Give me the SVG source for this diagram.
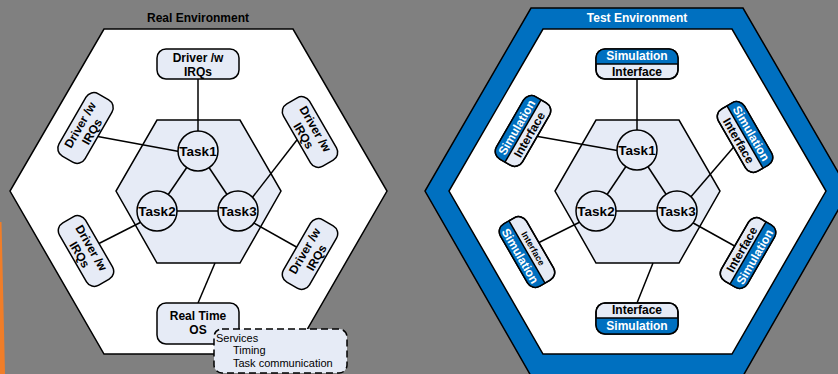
<svg xmlns="http://www.w3.org/2000/svg" width="838" height="374" viewBox="0 0 838 374">
<style>
.bg{fill:#808080}
.hexo{fill:#fff;stroke:#000;stroke-width:1.5}
.hexb{fill:#0070c0;stroke:#000;stroke-width:1.5}
.hexi{fill:#e6ebf6;stroke:#000;stroke-width:1.5}
.box{fill:#e6ebf6;stroke:#000;stroke-width:1.5}
.frame{fill:none;stroke:#000;stroke-width:1.5}
.blue{fill:#0070c0}
.dash{fill:#e6ebf6;stroke:#000;stroke-width:1.5;stroke-dasharray:7 4}
.t{font-family:"Liberation Sans",Arial,sans-serif;font-size:12px;font-weight:bold;text-anchor:middle;fill:#000}
.tl{font-family:"Liberation Sans",Arial,sans-serif;font-size:11px;fill:#000}
.ti{font-family:"Liberation Sans",Arial,sans-serif;font-size:12px;font-weight:bold;text-anchor:middle}
.task{font-family:"Liberation Sans",Arial,sans-serif;font-size:13.5px;font-weight:bold;text-anchor:middle;fill:#000}
.w{fill:#fff}
.conn line{stroke:#000;stroke-width:1.5}
</style>
<rect class="bg" x="0" y="0" width="838" height="374"/>
<polygon points="0,222 1.5,222 5,374 0,374" fill="#f07d28"/>

<g id="real-env">
<polygon class="hexo" points="104,29 293,29 387,191 293,354 104,354 10,191"/>
<text class="ti" x="198" y="21.5" fill="#000">Real Environment</text>
<polygon class="hexi" points="157,120 240,120 281,191 240,263 157,263 116,191"/>
</g>

<g id="test-env">
<polygon class="hexb" points="531,8 743,8 849,191 743,376 531,376 425,191"/>
<polygon class="hexo" points="543,29 732,29 826,191 732,354 543,354 449,191"/>
<text class="ti w" x="637" y="21.5">Test Environment</text>
<polygon class="hexi" points="596,120 679,120 720,191 679,263 596,263 555,191"/>
</g>

<g id="connectors" class="conn">
<line x1="198" y1="79" x2="198" y2="151"/>
<line x1="95" y1="136" x2="198" y2="155"/>
<line x1="300" y1="136" x2="238" y2="216"/>
<line x1="96" y1="245" x2="157" y2="214"/>
<line x1="238" y1="214" x2="300" y2="249"/>
<line x1="198" y1="151" x2="157" y2="211"/>
<line x1="198" y1="151" x2="238" y2="211"/>
<line x1="157" y1="211" x2="238" y2="211"/>
<line x1="215" y1="263" x2="198" y2="303"/>
<line x1="637" y1="79" x2="637" y2="150"/>
<line x1="535" y1="136" x2="637" y2="154"/>
<line x1="738" y1="142" x2="677" y2="213"/>
<line x1="534" y1="245" x2="596" y2="214"/>
<line x1="677" y1="214" x2="740" y2="249"/>
<line x1="637" y1="150" x2="596" y2="211"/>
<line x1="637" y1="150" x2="677" y2="211"/>
<line x1="596" y1="211" x2="677" y2="211"/>
<line x1="653" y1="263" x2="637" y2="303"/>
</g>

<g id="task1-real"><circle class="box" cx="198" cy="151" r="20"/><text class="task" x="198" y="156">Task1</text></g>
<g id="task2-real"><circle class="box" cx="157" cy="211" r="20"/><text class="task" x="157" y="216">Task2</text></g>
<g id="task3-real"><circle class="box" cx="238" cy="211" r="20"/><text class="task" x="238" y="216">Task3</text></g>

<g id="drv-top"><rect class="box" x="157" y="49" width="82" height="30" rx="9"/><text class="t" x="198" y="62">Driver /w</text><text class="t" x="198" y="75.5">IRQs</text></g>
<g id="drv-ul" transform="translate(85.5,128) rotate(-60)"><rect class="box" x="-36" y="-15" width="72" height="30" rx="9"/><text class="t" x="0" y="-2">Driver /w</text><text class="t" x="0" y="11.5">IRQs</text></g>
<g id="drv-ur" transform="translate(310,132) rotate(60)"><rect class="box" x="-36" y="-15" width="72" height="30" rx="9"/><text class="t" x="0" y="-2">Driver /w</text><text class="t" x="0" y="11.5">IRQs</text></g>
<g id="drv-ll" transform="translate(86,251) rotate(60)"><rect class="box" x="-36" y="-15" width="72" height="30" rx="9"/><text class="t" x="0" y="-2">Driver /w</text><text class="t" x="0" y="11.5">IRQs</text></g>
<g id="drv-lr" transform="translate(310,254) rotate(-60)"><rect class="box" x="-36" y="-15" width="72" height="30" rx="9"/><text class="t" x="0" y="-2">Driver /w</text><text class="t" x="0" y="11.5">IRQs</text></g>

<g id="rtos"><rect class="box" x="157" y="303" width="82" height="41" rx="9"/><text class="t" x="198" y="320">Real Time</text><text class="t" x="198" y="334">OS</text></g>
<g id="services"><rect class="dash" x="214" y="329" width="133" height="44" rx="8"/>
<text class="tl" x="216" y="342">Services</text>
<text class="tl" x="233" y="354">Timing</text>
<text class="tl" x="233" y="367">Task communication</text></g>

<g id="task1-test"><circle class="box" cx="637" cy="150" r="20"/><text class="task" x="637" y="155">Task1</text></g>
<g id="task2-test"><circle class="box" cx="596" cy="211" r="20"/><text class="task" x="596" y="216">Task2</text></g>
<g id="task3-test"><circle class="box" cx="677" cy="211" r="20"/><text class="task" x="677" y="216">Task3</text></g>

<g id="sim-top"><rect class="box" x="596" y="49" width="82" height="30" rx="9"/>
<path class="blue" d="M596,64 V58 A9,9 0 0 1 605,49 H669 A9,9 0 0 1 678,58 V64 Z"/>
<line x1="596" y1="64" x2="678" y2="64" stroke="#000" stroke-width="1.5"/>
<rect class="frame" x="596" y="49" width="82" height="30" rx="9"/>
<text class="t w" x="637" y="59.5">Simulation</text><text class="t" x="637" y="75.5">Interface</text></g>

<g id="sim-ul" transform="translate(523,131) rotate(-60)"><rect class="box" x="-36" y="-15" width="72" height="30" rx="9"/>
<path class="blue" d="M-36,0 V-6 A9,9 0 0 1 -27,-15 H27 A9,9 0 0 1 36,-6 V0 Z"/>
<line x1="-36" y1="0" x2="36" y2="0" stroke="#000" stroke-width="1.5"/>
<rect class="frame" x="-36" y="-15" width="72" height="30" rx="9"/>
<text class="t w" x="0" y="-3">Simulation</text><text class="t" x="0" y="11.5">Interface</text></g>

<g id="sim-ur" transform="translate(745,137) rotate(60)"><rect class="box" x="-36" y="-15" width="72" height="30" rx="9"/>
<path class="blue" d="M-36,0 V-6 A9,9 0 0 1 -27,-15 H27 A9,9 0 0 1 36,-6 V0 Z"/>
<line x1="-36" y1="0" x2="36" y2="0" stroke="#000" stroke-width="1.5"/>
<rect class="frame" x="-36" y="-15" width="72" height="30" rx="9"/>
<text class="t w" x="0" y="-3">Simulation</text><text class="t" x="0" y="11.5">Interface</text></g>

<g id="sim-ll" transform="translate(527,252) rotate(60)"><rect class="box" x="-36" y="-15" width="72" height="30" rx="9"/>
<path class="blue" d="M-36,0 V6 A9,9 0 0 0 -27,15 H27 A9,9 0 0 0 36,6 V0 Z"/>
<line x1="-36" y1="0" x2="36" y2="0" stroke="#000" stroke-width="1.5"/>
<rect class="frame" x="-36" y="-15" width="72" height="30" rx="9"/>
<text class="t" x="0" y="-4" style="font-size:9px">Interface</text><text class="t w" x="0" y="12">Simulation</text></g>

<g id="sim-lr" transform="translate(748,253) rotate(-60)"><rect class="box" x="-36" y="-15" width="72" height="30" rx="9"/>
<path class="blue" d="M-36,0 V6 A9,9 0 0 0 -27,15 H27 A9,9 0 0 0 36,6 V0 Z"/>
<line x1="-36" y1="0" x2="36" y2="0" stroke="#000" stroke-width="1.5"/>
<rect class="frame" x="-36" y="-15" width="72" height="30" rx="9"/>
<text class="t" x="0" y="-3">Interface</text><text class="t w" x="0" y="12">Simulation</text></g>

<g id="sim-bottom"><rect class="box" x="596" y="303" width="82" height="31" rx="9"/>
<path class="blue" d="M596,318 V325 A9,9 0 0 0 605,334 H669 A9,9 0 0 0 678,325 V318 Z"/>
<line x1="596" y1="318" x2="678" y2="318" stroke="#000" stroke-width="1.5"/>
<rect class="frame" x="596" y="303" width="82" height="31" rx="9"/>
<text class="t" x="637" y="314">Interface</text><text class="t w" x="637" y="330">Simulation</text></g>
</svg>
